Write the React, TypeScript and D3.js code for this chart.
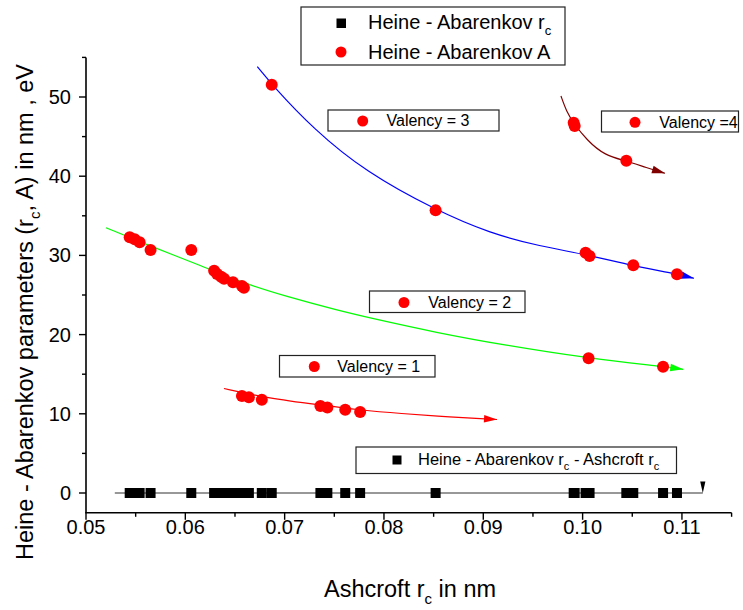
import React from 'react';
import * as d3 from 'd3';

// ---------- data ----------
const xTickValues = [0.05, 0.06, 0.07, 0.08, 0.09, 0.1, 0.11];
const xTickLabels = ['0.05', '0.06', '0.07', '0.08', '0.09', '0.10', '0.11'];
const xMinorTicks = [0.055, 0.065, 0.075, 0.085, 0.095, 0.105, 0.115];
const yTickValues = [0, 10, 20, 30, 40, 50];
const yTickLabels = ['0', '10', '20', '30', '40', '50'];
const yMinorTicks = [5, 15, 25, 35, 45, 55];

// Valency 1 (Ashcroft rc, Heine-Abarenkov A)
const v1Rc = [0.0657, 0.0664, 0.0677, 0.0736, 0.0743, 0.0761, 0.0776];
const v1A = [12.25, 12.08, 11.77, 10.98, 10.81, 10.52, 10.23];
// Valency 2
const v2Rc = [0.0544, 0.0549, 0.0554, 0.0565, 0.0606, 0.0629, 0.0632, 0.0636, 0.0639, 0.0648, 0.0657, 0.0659, 0.1006, 0.1081];
const v2A = [32.29, 32.03, 31.65, 30.68, 30.68, 28.07, 27.65, 27.31, 27.06, 26.6, 26.14, 25.93, 17.01, 15.95];
// Valency 3
const v3Rc = [0.0687, 0.0852, 0.1003, 0.1007, 0.1051, 0.1095];
const v3A = [51.55, 35.69, 30.34, 29.92, 28.75, 27.61];
// Valency 4
const v4Rc = [0.0991, 0.0992, 0.1044];
const v4A = [46.76, 46.34, 41.96];

// Heine-Abarenkov rc - Ashcroft rc (difference ~ 0)
const diffRc = [0.0544, 0.0549, 0.0554, 0.0565, 0.0606, 0.0629, 0.0632, 0.0636, 0.0639, 0.0648, 0.0657, 0.0659, 0.0664, 0.0677, 0.0687,
  0.0736, 0.0743, 0.0761, 0.0776, 0.0852, 0.0991, 0.0992, 0.1003, 0.1006, 0.1007, 0.1044, 0.1051, 0.1081, 0.1095];
const diffVal = [0, 0, 0, 0, 0, 0, 0, 0, 0, 0, 0, 0, 0, 0, 0, 0, 0, 0, 0, 0, 0, 0, 0, 0, 0, 0, 0, 0, 0];
const diffLineRc = [0.0529, 0.1121];
const diffLineVal = [0, 0];

// fitted curves
const fit1Rc = [0.06389, 0.06819, 0.07356, 0.07758, 0.08161, 0.08665, 0.09138];
const fit1A = [13.19, 11.99, 11.11, 10.48, 10.04, 9.6, 9.28];
const fit2Rc = [0.05201, 0.05644, 0.06148, 0.06584, 0.07021, 0.0754, 0.07859, 0.08531, 0.09201, 0.10057, 0.10812, 0.11013];
const fit2A = [33.5, 31.19, 28.75, 26.5, 24.8, 23.05, 22.1, 20.24, 18.69, 17.01, 15.95, 15.62];
const fit3Rc = [0.06725, 0.06873, 0.07285, 0.07819, 0.08524, 0.09067, 0.09571, 0.10041, 0.1051, 0.10947, 0.11121];
const fit3A = [53.83, 51.55, 46.0, 40.5, 35.69, 32.79, 31.15, 30.1, 28.66, 27.65, 27.11];
const fit4Rc = [0.09782, 0.09839, 0.09906, 0.10041, 0.10225, 0.10436, 0.10645, 0.10829];
const fit4A = [50.13, 48.14, 46.76, 44.57, 42.6, 41.96, 41.07, 40.37];

// ---------- layout ----------
const W = 743;
const H = 610;
const FONT = "'Liberation Sans', Arial, sans-serif";

const x = d3.scaleLinear().domain([0.05, 0.115]).range([86, 731.6]);
const y = d3.scaleLinear().domain([-2.5, 55]).range([512.8, 57.4]);

const zip = (a: number[], b: number[]) => a.map((v, i) => [v, b[i]] as [number, number]);

const lineGen = d3
  .line<[number, number]>()
  .x((d) => x(d[0]))
  .y((d) => y(d[1]))
  .curve(d3.curveBasis);

function arrowHead(pts: [number, number][], len: number, hw: number) {
  const n = pts.length;
  const tx = x(pts[n - 1][0]);
  const ty = y(pts[n - 1][1]);
  const px = x(pts[n - 2][0]);
  const py = y(pts[n - 2][1]);
  const dx = tx - px;
  const dy = ty - py;
  const d = Math.sqrt(dx * dx + dy * dy);
  const ux = dx / d;
  const uy = dy / d;
  const bx = tx - ux * len;
  const by = ty - uy * len;
  return `M${tx},${ty}L${bx - uy * hw},${by + ux * hw}L${bx + uy * hw},${by - ux * hw}Z`;
}

const fits = [
  { pts: zip(fit1Rc, fit1A), color: '#ff0000' },
  { pts: zip(fit2Rc, fit2A), color: '#00ff00' },
  { pts: zip(fit3Rc, fit3A), color: '#0000ff' },
  { pts: zip(fit4Rc, fit4A), color: '#800000' },
];

const redPoints = [...zip(v1Rc, v1A), ...zip(v2Rc, v2A), ...zip(v3Rc, v3A), ...zip(v4Rc, v4A)];
const blackPoints = zip(diffRc, diffVal);
const diffLine = zip(diffLineRc, diffLineVal);

function LegendBox({ x0, y0, w, h }: { x0: number; y0: number; w: number; h: number }) {
  return <rect x={x0} y={y0} width={w} height={h} fill="#fff" stroke="#222" strokeWidth={1.2} />;
}

export default function App() {
  const endX = diffLine[1];
  const tipX = x(endX[0]);
  const tipY = y(endX[1]);
  const yBottom = y(-2.5);
  return (
    <svg width={W} height={H} style={{ position: 'absolute', left: 0, top: 0, background: '#fff' }} fontFamily={FONT}>
      <rect x={0} y={0} width={W} height={H} fill="#fff" />

      {/* fit curves */}
      {fits.map((f, i) => (
        <g key={i}>
          <path d={lineGen(f.pts) || ''} fill="none" stroke={f.color} strokeWidth={1.2} />
          <path d={arrowHead(f.pts, 13, 3.8)} fill={f.color} />
        </g>
      ))}

      {/* difference line */}
      <path d={d3.line<[number, number]>().x((d) => x(d[0])).y((d) => y(d[1]))(diffLine) || ''} stroke="#333" strokeWidth={1.2} fill="none" />
      <path d={`M${tipX},${tipY}L${tipX - 2.6},${tipY - 11.5}L${tipX + 2.6},${tipY - 11.5}Z`} fill="#000" />
      {blackPoints.map((p, i) => (
        <rect key={i} x={x(p[0]) - 5} y={y(p[1]) - 5} width={10} height={10} fill="#000" />
      ))}

      {/* red points */}
      {redPoints.map((p, i) => (
        <circle key={i} cx={x(p[0])} cy={y(p[1])} r={6} fill="#ff0000" />
      ))}

      {/* axes */}
      <line x1={x(0.05)} x2={x(0.05)} y1={yBottom} y2={y(55)} stroke="#000" strokeWidth={1.6} />
      <line x1={x(0.05) - 0.8} x2={x(0.115)} y1={yBottom} y2={yBottom} stroke="#000" strokeWidth={1.6} />
      {xTickValues.map((v, i) => (
        <g key={'xt' + i}>
          <line x1={x(v)} x2={x(v)} y1={yBottom} y2={yBottom + 7} stroke="#000" strokeWidth={1.4} />
          <text x={x(v)} y={534} textAnchor="middle" fontSize={20}>
            {xTickLabels[i]}
          </text>
        </g>
      ))}
      {xMinorTicks.map((v, i) => (
        <line key={'xm' + i} x1={x(v)} x2={x(v)} y1={yBottom} y2={yBottom + 4} stroke="#000" strokeWidth={1.4} />
      ))}
      {yTickValues.map((v, i) => (
        <g key={'yt' + i}>
          <line x1={x(0.05) - 7} x2={x(0.05)} y1={y(v)} y2={y(v)} stroke="#000" strokeWidth={1.4} />
          <text x={71} y={y(v) + 7} textAnchor="end" fontSize={20}>
            {yTickLabels[i]}
          </text>
        </g>
      ))}
      {yMinorTicks.map((v, i) => (
        <line key={'ym' + i} x1={x(0.05) - 4} x2={x(0.05)} y1={y(v)} y2={y(v)} stroke="#000" strokeWidth={1.4} />
      ))}

      {/* axis titles */}
      <text x={410} y={597} textAnchor="middle" fontSize={23.5}>
        Ashcroft r<tspan dy={7} fontSize={15}>c</tspan>
        <tspan dy={-7}> in nm</tspan>
      </text>
      <text transform="translate(33,312) rotate(-90)" textAnchor="middle" fontSize={23.5}>
        Heine - Abarenkov parameters (r<tspan dy={7} fontSize={15}>c</tspan>
        <tspan dy={-7}>, A) in nm , eV</tspan>
      </text>

      {/* main legend */}
      <LegendBox x0={301} y0={7} w={264} h={58} />
      <rect x={336.5} y={18.5} width={9.5} height={9.5} fill="#000" />
      <text x={368} y={28.5} fontSize={20}>
        Heine - Abarenkov r<tspan dy={6} fontSize={13}>c</tspan>
      </text>
      <circle cx={341} cy={52} r={5.5} fill="#ff0000" />
      <text x={368} y={58.5} fontSize={20}>
        Heine - Abarenkov A
      </text>

      {/* valency labels */}
      <LegendBox x0={328} y0={110} w={171} h={21} />
      <circle cx={362.7} cy={121} r={5.5} fill="#ff0000" />
      <text x={386.5} y={126} fontSize={16}>Valency = 3</text>

      <LegendBox x0={601.5} y0={111} w={137} h={21} />
      <circle cx={635} cy={122.3} r={5.5} fill="#ff0000" />
      <text x={659.3} y={128} fontSize={16}>Valency =4</text>

      <LegendBox x0={369.5} y0={291} w={155.5} h={21.5} />
      <circle cx={404} cy={302.5} r={5.5} fill="#ff0000" />
      <text x={428.3} y={307.5} fontSize={16}>Valency = 2</text>

      <LegendBox x0={279.5} y0={355.5} w={155.5} h={21.5} />
      <circle cx={314.3} cy={366.5} r={5.5} fill="#ff0000" />
      <text x={337.3} y={372.3} fontSize={16}>Valency = 1</text>

      <LegendBox x0={356} y0={447} w={320.5} h={26.5} />
      <rect x={392.5} y={455.5} width={9} height={9} fill="#000" />
      <text x={418} y={465} fontSize={16.5}>
        Heine - Abarenkov r<tspan dy={5} fontSize={11}>c</tspan>
        <tspan dy={-5}> - Ashcroft r</tspan>
        <tspan dy={5} fontSize={11}>c</tspan>
      </text>
    </svg>
  );
}
